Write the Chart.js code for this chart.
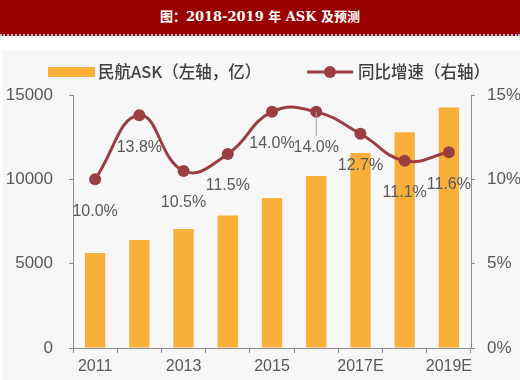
<!DOCTYPE html>
<html><head><meta charset="utf-8">
<script src="https://cdn.jsdelivr.net/npm/chart.js@4/dist/chart.umd.min.js"></script>
<style>
html,body{margin:0;padding:0;background:#fff;width:520px;height:380px;overflow:hidden}
#title{position:absolute;left:0;top:0;width:520px;height:34px;background:#9b0000;border-bottom:2px dotted #b8b8d8;color:#fff;font:bold 13px "DejaVu Serif","Noto Sans CJK SC",serif;text-align:center;line-height:34px}
#panel{position:absolute;left:3px;top:50px;width:517px;height:330px;background:#f7f7f7}
</style></head><body>
<div id="title">图：2018-2019 年 ASK 及预测</div>
<div id="panel"><canvas id="c" width="517" height="330"></canvas></div>
<script>
const categories = ['2011','2012','2013','2014','2015','2016','2017E','2018E','2019E'];
const askValues = [5630, 6400, 7050, 7860, 8900, 10200, 11560, 12790, 14260];
const growthValues = [10.0, 13.8, 10.5, 11.5, 14.0, 14.0, 12.7, 11.1, 11.6];
const growthLabels = ['10.0%','13.8%','10.5%','11.5%','14.0%','14.0%','12.7%','11.1%','11.6%'];
const leftTicks = [0, 5000, 10000, 15000];
const rightTicks = [0, 5, 10, 15];
const seriesNames = ['民航ASK（左轴，亿）', '同比增速（右轴）'];

const BAR = '#f8b03b', LINE = '#9c3e41', TXT = '#595959', AX = '#8c8c8c';
const tickFont = {family:'"Liberation Sans", Arial, sans-serif', size:17};

const overlay = {
  id:'overlay',
  afterDatasetsDraw(chart){
    const ctx = chart.ctx;
    const meta = chart.getDatasetMeta(0);
    ctx.save();
    const p5 = meta.data[5];
    ctx.strokeStyle = '#a0a0a0'; ctx.lineWidth = 1;
    ctx.beginPath(); ctx.moveTo(p5.x, p5.y); ctx.lineTo(p5.x, p5.y + 24); ctx.stroke();
    ctx.font = '16px "Liberation Sans", Arial, sans-serif';
    ctx.fillStyle = TXT; ctx.textAlign = 'center'; ctx.textBaseline = 'middle';
    meta.data.forEach((pt, i) => {
      const dy = i === 5 ? 36 : 32;
      ctx.fillText(growthLabels[i], pt.x, pt.y + dy);
    });
    ctx.textAlign = 'left';
    ctx.font = '500 16.5px "Noto Sans CJK SC", sans-serif';
    ctx.fillStyle = BAR;
    ctx.fillRect(45, 17, 47, 10);
    ctx.fillStyle = '#404040';
    ctx.fillText(seriesNames[0], 95, 22);
    ctx.strokeStyle = LINE; ctx.lineWidth = 3;
    ctx.beginPath(); ctx.moveTo(304, 22); ctx.lineTo(350, 22); ctx.stroke();
    ctx.fillStyle = LINE;
    ctx.beginPath(); ctx.arc(327, 22, 6, 0, Math.PI*2); ctx.fill();
    ctx.fillStyle = '#404040';
    ctx.fillText(seriesNames[1], 355, 22);
    ctx.restore();
  }
};

new Chart(document.getElementById('c'), {
  data: {
    labels: categories,
    datasets: [
      {type:'line', label:seriesNames[1], data:growthValues, yAxisID:'y1', borderColor:LINE, backgroundColor:LINE,
       borderWidth:3, pointRadius:6, pointBackgroundColor:LINE, pointBorderWidth:0, tension:0.45, order:0},
      {type:'bar', label:seriesNames[0], data:askValues, yAxisID:'y', backgroundColor:BAR,
       barPercentage:0.5, categoryPercentage:0.92, order:1}
    ]
  },
  options: {
    responsive:false, animation:false, events:[],
    layout:{padding:{top:45, left:0, right:0, bottom:0}},
    plugins:{legend:{display:false}, tooltip:{enabled:false}},
    scales:{
      x:{
        grid:{display:true, drawOnChartArea:false, drawTicks:true, tickLength:5, color:AX, offset:true},
        border:{display:true, color:AX, width:1},
        ticks:{font:{...tickFont, size:16}, color:TXT, autoSkip:false, maxRotation:0, padding:4,
               callback:(v,i)=> i%2===0 ? categories[i] : ''},
        afterFit:(s)=>{s.height = 32;}
      },
      y:{
        position:'left', min:0, max:15000,
        afterBuildTicks:(s)=>{s.ticks = leftTicks.map(v=>({value:v}));},
        grid:{display:true, drawOnChartArea:false, drawTicks:true, tickLength:4, color:AX},
        border:{display:true, color:AX, width:1},
        ticks:{font:tickFont, color:TXT, padding:16, callback:(v)=>String(v)},
        afterFit:(s)=>{s.width = 70;}
      },
      y1:{
        position:'right', min:0, max:15,
        afterBuildTicks:(s)=>{s.ticks = rightTicks.map(v=>({value:v}));},
        grid:{display:true, drawOnChartArea:false, drawTicks:true, tickLength:4, color:AX},
        border:{display:true, color:AX, width:1},
        ticks:{font:tickFont, color:TXT, padding:12, callback:(v)=>v+'%'},
        afterFit:(s)=>{s.width = 49;}
      }
    }
  },
  plugins:[overlay]
});
</script>
</body></html>
